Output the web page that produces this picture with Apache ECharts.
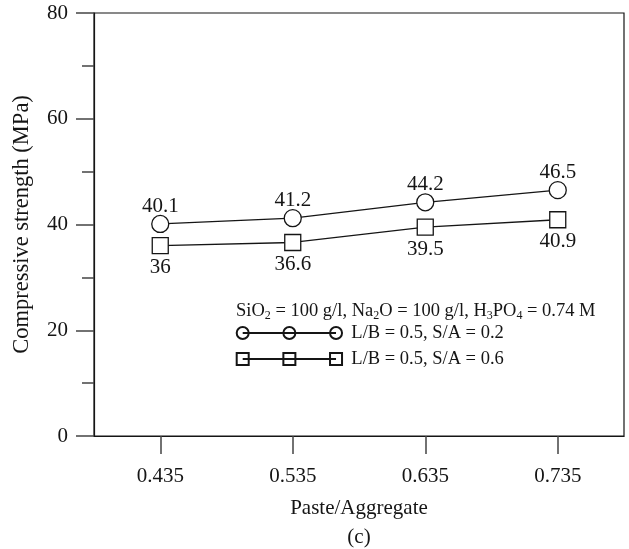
<!DOCTYPE html>
<html>
<head>
<meta charset="utf-8">
<script src="https://cdn.jsdelivr.net/npm/echarts@6/dist/echarts.min.js"></script>
<style>
html,body{margin:0;padding:0;background:#fff;}
#chart{width:629px;height:549px;}
</style>
</head>
<body>
<div id="chart"></div>
<script>
const categories = ['0.435', '0.535', '0.635', '0.735'];
const seriesS02 = [40.1, 41.2, 44.2, 46.5];   // L/B = 0.5, S/A = 0.2 (circles)
const seriesS06 = [36, 36.6, 39.5, 40.9];     // L/B = 0.5, S/A = 0.6 (squares)
const seriesNames = ['L/B = 0.5, S/A = 0.2', 'L/B = 0.5, S/A = 0.6'];
const yMin = 0, yMax = 80, yStep = 20;

const FONT = 'Liberation Serif';
const INK = '#151515';

const circleIcon = 'path://M0,6 A6,6 0 1,0 12,6 A6,6 0 1,0 0,6 Z M46.67,6 A6,6 0 1,0 58.67,6 A6,6 0 1,0 46.67,6 Z M93.33,6 A6,6 0 1,0 105.33,6 A6,6 0 1,0 93.33,6 Z M6,6 L99.33,6';
const squareIcon = 'path://M0,0 H12 V12 H0 Z M46.67,0 H58.67 V12 H46.67 Z M93.33,0 H105.33 V12 H93.33 Z M6,6 L99.33,6';

const chart = echarts.init(document.getElementById('chart'), null, {renderer: 'canvas'});
chart.setOption({
  animation: false,
  backgroundColor: '#fff',
  textStyle: {fontFamily: FONT},
  grid: {left: 94, right: 5, top: 13, bottom: 113, show: true, borderColor: INK, borderWidth: 1.2, backgroundColor: 'transparent'},
  title: {
    text: 'SiO{sub|2} = 100 g/l, Na{sub|2}O = 100 g/l, H{sub|3}PO{sub|4} = 0.74 M',
    left: 236, top: 300, padding: 0,
    textStyle: {
      fontFamily: FONT, fontSize: 18.5, fontWeight: 'normal', color: INK, lineHeight: 22,
      rich: {sub: {fontFamily: FONT, fontSize: 12, color: INK, verticalAlign: 'bottom', lineHeight: 14}}
    }
  },
  graphic: [{
    type: 'text', x: 359, y: 537,
    style: {text: '(c)', font: '21px "Liberation Serif"', fill: INK, textAlign: 'center', textVerticalAlign: 'middle'}
  }],
  legend: {
    orient: 'vertical', left: 235.7, top: 323, padding: 0,
    itemWidth: 114, itemHeight: 12, itemGap: 6, selectedMode: false,
    textStyle: {fontFamily: FONT, fontSize: 18.5, color: INK, lineHeight: 20},
    data: [
      {name: seriesNames[0], icon: circleIcon},
      {name: seriesNames[1], icon: squareIcon}
    ]
  },
  xAxis: {
    type: 'category', data: categories, boundaryGap: true,
    name: 'Paste/Aggregate', nameLocation: 'middle', nameGap: 62,
    nameTextStyle: {fontFamily: FONT, fontSize: 21, color: INK},
    axisLine: {show: true, lineStyle: {color: INK, width: 1.2}},
    axisTick: {show: true, alignWithLabel: true, length: 18, lineStyle: {color: '#444', width: 1.5}},
    axisLabel: {fontFamily: FONT, fontSize: 21, color: INK, margin: 30},
    splitLine: {show: false}
  },
  yAxis: {
    type: 'value', min: yMin, max: yMax, interval: yStep,
    name: 'Compressive strength (MPa)', nameLocation: 'middle', nameGap: 60,
    nameTextStyle: {fontFamily: FONT, fontSize: 22.5, color: INK},
    axisLine: {show: true, lineStyle: {color: INK, width: 1.2}},
    axisTick: {show: true, length: 18, lineStyle: {color: '#444', width: 1.5}},
    minorTick: {show: true, splitNumber: 2, length: 12, lineStyle: {color: '#444', width: 1.5}},
    axisLabel: {fontFamily: FONT, fontSize: 21, color: INK, margin: 26},
    splitLine: {show: false}
  },
  series: [
    {
      name: seriesNames[0], type: 'line', data: seriesS02,
      symbol: 'circle', symbolSize: 17,
      lineStyle: {color: INK, width: 1.3},
      itemStyle: {color: '#fff', borderColor: INK, borderWidth: 1.3},
      label: {show: true, position: 'top', distance: -2, fontFamily: FONT, fontSize: 21, color: INK},
      z: 3
    },
    {
      name: seriesNames[1], type: 'line', data: seriesS06,
      symbol: 'rect', symbolSize: 16,
      lineStyle: {color: INK, width: 1.3},
      itemStyle: {color: '#fff', borderColor: INK, borderWidth: 1.3},
      label: {show: true, position: 'bottom', distance: 3, fontFamily: FONT, fontSize: 21, color: INK},
      z: 3
    }
  ]
});
</script>
</body>
</html>
